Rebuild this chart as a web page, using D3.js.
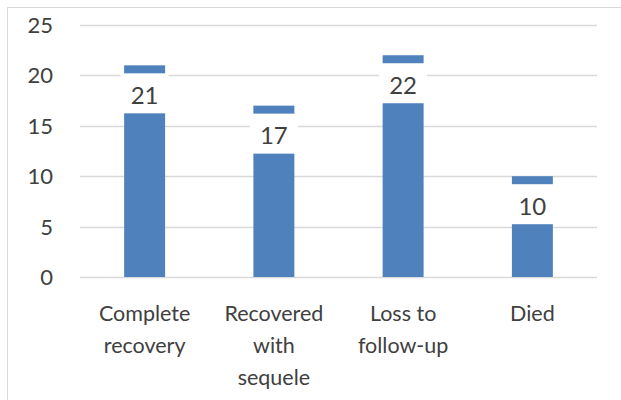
<!DOCTYPE html>
<html>
<head>
<meta charset="utf-8">
<script src="https://cdn.jsdelivr.net/npm/d3@7"></script>
<style>
  body { margin: 0; background: #fff; }
  svg { display: block; font-family: Lato, "Noto Sans", sans-serif; }
</style>
</head>
<body>
<svg width="621" height="400"></svg>
<script>
// chart data
const categories = ["Complete recovery", "Recovered with sequele", "Loss to follow-up", "Died"];
const categoryLines = [["Complete", "recovery"], ["Recovered", "with", "sequele"], ["Loss to", "follow-up"], ["Died"]];
const values = [21, 17, 22, 10];
const yTicks = [0, 5, 10, 15, 20, 25];

const BAR = "#4F81BD";
const GRID = "#D9D9D9";
const TEXT = "#404040";

const svg = d3.select("svg");

// outer frame
svg.append("rect")
  .attr("x", 7.5).attr("y", 7.5)
  .attr("width", 640).attr("height", 420)
  .attr("fill", "none").attr("stroke", GRID);

const x = d3.scaleBand().domain(categories).range([80, 597]).paddingInner(0.683).paddingOuter(0.3415);
const y = d3.scaleLinear().domain([0, 25]).range([277, 25]);

// gridlines
svg.append("g")
  .selectAll("line")
  .data(yTicks)
  .join("line")
  .attr("x1", 80).attr("x2", 597)
  .attr("y1", d => Math.round(y(d)) + 0.5).attr("y2", d => Math.round(y(d)) + 0.5)
  .attr("stroke", GRID).attr("stroke-width", 1.5);

// y tick labels
svg.append("g")
  .selectAll("text")
  .data(yTicks)
  .join("text")
  .attr("x", 53).attr("y", d => y(d))
  .attr("dy", "0.36em")
  .attr("text-anchor", "end")
  .attr("font-size", 22)
  .attr("fill", TEXT)
  .text(d => d);

// bars
svg.append("g")
  .selectAll("rect")
  .data(values)
  .join("rect")
  .attr("x", (d, i) => x(categories[i]))
  .attr("width", x.bandwidth())
  .attr("y", d => y(d))
  .attr("height", d => y(0) - y(d))
  .attr("fill", BAR);

// value labels with white boxes, inside the bar end
const labels = svg.append("g")
  .selectAll("g")
  .data(values)
  .join("g")
  .attr("transform", (d, i) => `translate(${x(categories[i]) + x.bandwidth() / 2},${y(d) + 8})`);

labels.append("rect")
  .attr("x", -24).attr("width", 48)
  .attr("y", 0).attr("height", 40)
  .attr("fill", "#fff");

labels.append("text")
  .attr("y", 22)
  .attr("dy", "0.36em")
  .attr("text-anchor", "middle")
  .attr("font-size", 24)
  .attr("fill", TEXT)
  .text(d => d);

// category labels
const cat = svg.append("g")
  .selectAll("text")
  .data(categoryLines)
  .join("text")
  .attr("text-anchor", "middle")
  .attr("font-size", 21.5)
  .attr("fill", TEXT)
  .attr("transform", (d, i) => `translate(${x(categories[i]) + x.bandwidth() / 2},313)`);

cat.selectAll("tspan")
  .data(d => d)
  .join("tspan")
  .attr("x", 0)
  .attr("y", (d, i) => i * 32)
  .attr("dy", "0.36em")
  .text(d => d);
</script>
</body>
</html>
